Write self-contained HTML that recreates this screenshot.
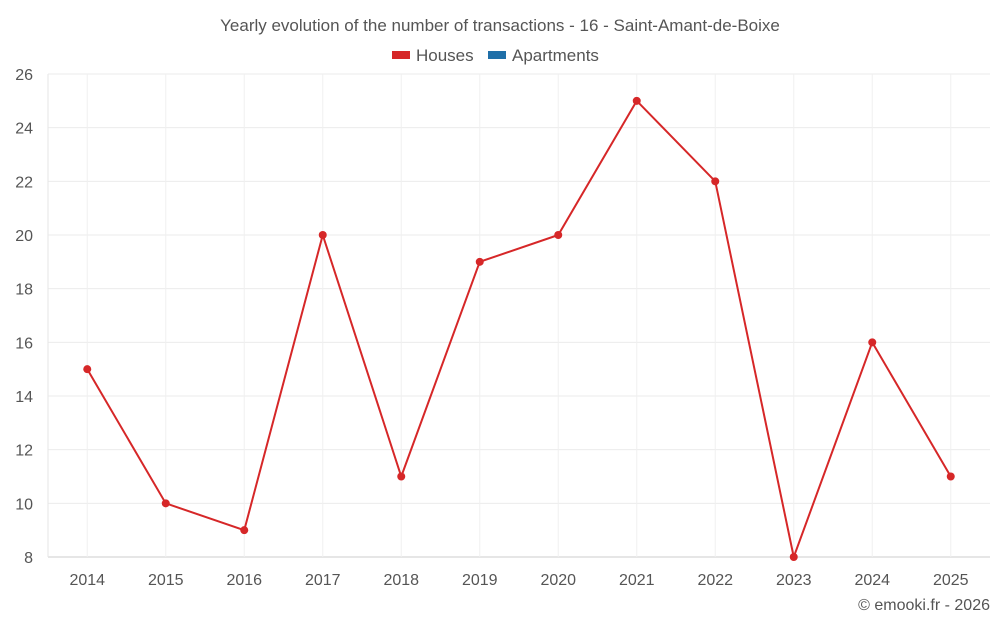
<!DOCTYPE html>
<html><head><meta charset="utf-8"><style>
body{margin:0;background:#fff;font-family:"Liberation Sans",sans-serif;}
svg text{font-family:"Liberation Sans",sans-serif;fill:#555;}
</style></head><body>
<svg id="chart" width="1000" height="625">
<text x="500" y="31" text-anchor="middle" font-size="17">Yearly evolution of the number of transactions - 16 - Saint-Amant-de-Boixe</text>
<g>
<g><rect x="392" y="51" width="18" height="8" fill="#d62728"/><text x="416" y="61" font-size="17">Houses</text></g>
<g><rect x="488" y="51" width="18" height="8" fill="#1f6fa8"/><text x="512" y="61" font-size="17">Apartments</text></g>
</g>
<g id="grid"></g>
<g id="yaxis"></g>
<g id="xaxis"></g>
<g id="series"></g>
<text x="990" y="610" text-anchor="end" font-size="16">© emooki.fr - 2026</text>
</svg>
<script>
const categories=["2014","2015","2016","2017","2018","2019","2020","2021","2022","2023","2024","2025"];
const houses=[15,10,9,20,11,19,20,25,22,8,16,11];
const yTicks=[8,10,12,14,16,18,20,22,24,26];
const L=48,R=990,T=74,B=557,yMin=8,yMax=26;
const NS="http://www.w3.org/2000/svg";
const bw=(R-L)/categories.length;
function x(i){return L+bw*(i+0.5);}
function y(v){return B-(v-yMin)/(yMax-yMin)*(B-T);}
function mk(t,a,p){const e=document.createElementNS(NS,t);for(const k in a)e.setAttribute(k,a[k]);p.appendChild(e);return e;}
const grid=document.getElementById('grid'),ya=document.getElementById('yaxis'),xa=document.getElementById('xaxis'),s=document.getElementById('series');
yTicks.forEach(v=>{
 const l=mk('line',{x1:L,x2:R,y1:y(v),y2:y(v),stroke:v===yMin?'#ccc':'#ebebeb'},grid);
 
 
 const t=mk('text',{x:33,y:y(v)+6,'text-anchor':'end','font-size':'16'},ya);t.textContent=v;
 
 
});
categories.forEach((c,i)=>{
 const l=mk('line',{x1:x(i),x2:x(i),y1:T,y2:B,stroke:'#f0f0f0'},grid);
 
 
 const t=mk('text',{x:x(i),y:585,'text-anchor':'middle','font-size':'16'},xa);t.textContent=c;
 
 
});
mk('line',{x1:L,x2:L,y1:T,y2:B,stroke:'#e6e6e6'},grid);
const p=mk('polyline',{points:houses.map((v,i)=>x(i)+','+y(v)).join(' '),fill:'none',stroke:'#d62728','stroke-width':2},s);


houses.forEach((v,i)=>{
 const c=mk('circle',{cx:x(i),cy:y(v),r:4,fill:'#d62728'},s);
 
 
});
</script>
</body></html>
